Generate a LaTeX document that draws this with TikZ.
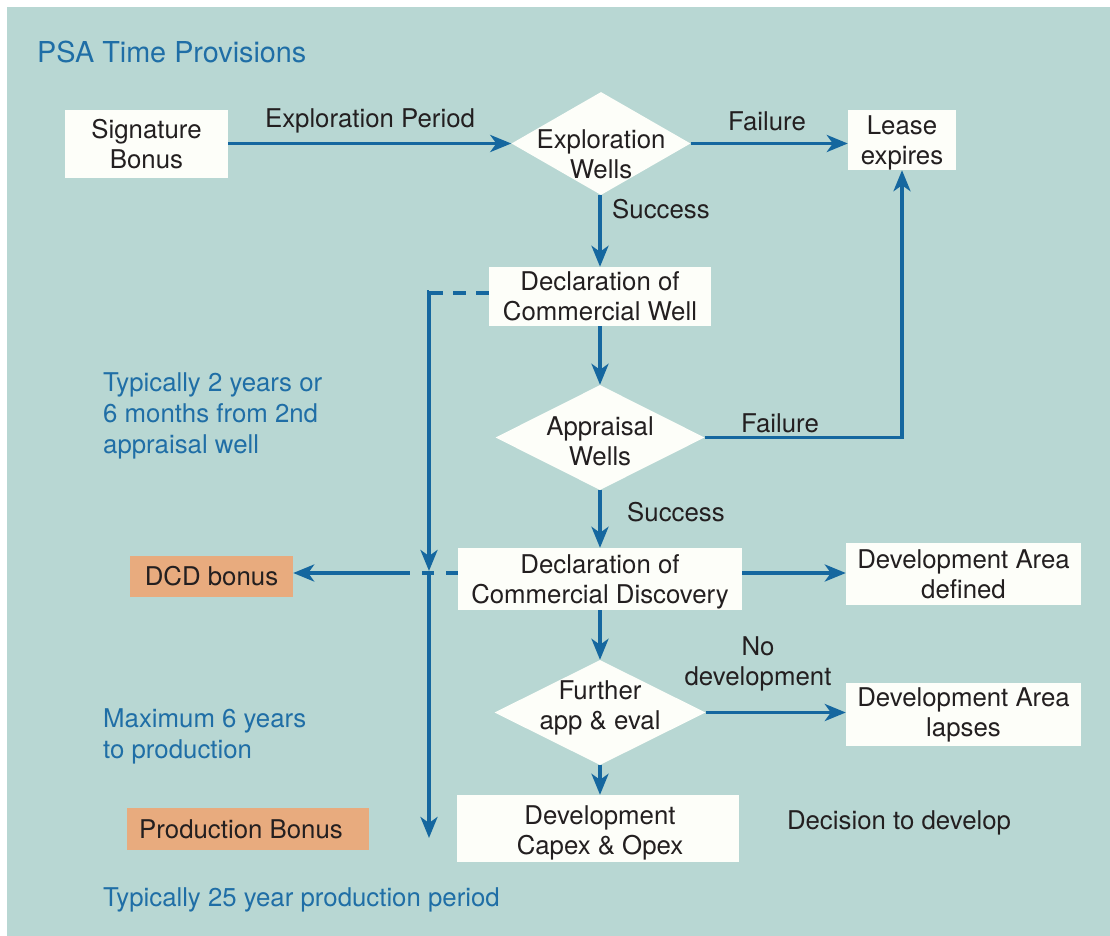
\documentclass[tikz,border=0pt]{standalone}
\usepackage{fontspec}
\setmainfont{TeX Gyre Heros}
\usetikzlibrary{shapes.geometric,arrows.meta,calc}
\definecolor{bgteal}{HTML}{B8D7D3}
\definecolor{boxwhite}{HTML}{FDFEF9}
\definecolor{flowblue}{HTML}{15679F}
\definecolor{noteblue}{HTML}{1F6EA6}
\definecolor{bonusorange}{HTML}{E8AB7E}
\definecolor{inkdark}{HTML}{231F20}
\tikzset{
  txt/.style={text=inkdark, font=\fontsize{25.8}{30}\selectfont, align=center, inner sep=0pt},
  note/.style={text=noteblue, font=\fontsize{25.8}{31}\selectfont, align=left, inner sep=0pt, anchor=west},
  stepbox/.style={fill=boxwhite, draw=none, inner sep=0pt, txt},
  bonusbox/.style={fill=bonusorange, draw=none, inner sep=0pt, txt},
  decision/.style={shape=diamond, fill=boxwhite, draw=none, inner sep=0pt},
  flow/.style={draw=flowblue, line width=3.5pt},
  flowarrow/.style={flow, -{Stealth[length=21pt,width=17pt,inset=6pt]}},
  flowdash/.style={flow, dash pattern=on 13pt off 10pt},
}
\begin{document}
\begin{tikzpicture}[x=1pt,y=-1pt]
\useasboundingbox (0,0) rectangle (1110,936);
\fill[bgteal] (7,7) rectangle (1110,936);

% title
\node[note, font=\fontsize{28.8}{34}\selectfont] (title) at (37,52) {PSA Time Provisions};

% process boxes
\node[stepbox, minimum width=163pt, minimum height=68pt] (sig) at (146.5,144) {Signature\\Bonus};
\node[stepbox, minimum width=108pt, minimum height=60pt,
  label={[txt, yshift=-3pt]center:Lease\\expires}] (lease) at (902,140) {};
\node[stepbox, minimum width=222pt, minimum height=59pt] (dcw) at (600,296.5) {Declaration of\\Commercial Well};
\node[stepbox, minimum width=284pt, minimum height=62pt,
  label={[txt, yshift=-3pt]center:Declaration of\\Commercial Discovery}] (dcd) at (600,579) {};
\node[stepbox, minimum width=235pt, minimum height=62pt] (dad) at (963.5,574) {Development Area\\defined};
\node[stepbox, minimum width=235pt, minimum height=63pt] (dal) at (963.5,714.5) {Development Area\\lapses};
\node[stepbox, minimum width=282pt, minimum height=67pt,
  label={[txt, yshift=-4pt, xshift=2pt]center:Development\\Capex \& Opex}] (dev) at (598,828.5) {};

% bonuses
\node[bonusbox, minimum width=163pt, minimum height=41pt] (dcdb) at (211.5,576.5) {DCD bonus};
\node[bonusbox, minimum width=242pt, minimum height=42pt,
  label={[txt, xshift=-7pt]center:Production Bonus}] (pb) at (248,829) {};

% decisions
\node[decision, minimum width=179pt, minimum height=103pt,
  label={[txt, yshift=-11pt]center:Exploration\\Wells}] (ew) at (601,143.5) {};
\node[decision, minimum width=209pt, minimum height=105pt,
  label={[txt, yshift=-4pt]center:Appraisal\\Wells}] (aw) at (600,437.5) {};
\node[decision, minimum width=211pt, minimum height=105pt,
  label={[txt, yshift=5pt]center:Further\\app \& eval}] (fae) at (600,712.5) {};

% main flow
\draw[flowarrow] (sig.east |- ew.west) -- (ew.west);
\draw[flowarrow] (ew.east) -- (ew.east -| lease.west);
\draw[flowarrow] (ew.south -| dcw.north) -- (dcw.north);
\draw[flowarrow] (dcw.south) -- (dcw.south |- aw.north);
\draw[flowarrow] (aw.east) -| (lease.south);
\draw[flowarrow] (aw.south) -- (aw.south |- dcd.north);
\draw[flowarrow] ($(dcd.east |- dad.west)+(0,-1)$) -- ($(dad.west)+(0,-1)$);
\draw[flowarrow] (dcd.south) -- (dcd.south |- fae.north);
\draw[flowarrow] (fae.east) -- (fae.east -| dal.west);
\draw[flowarrow] (fae.south) -- (fae.south |- dev.north);

% time-line on the left
\coordinate (corner) at (429,293);
\coordinate (cross) at (429,571);
\coordinate (lineend) at (429,838);
\coordinate (dashend) at (404,573);
\draw[flowdash] (dcw.west |- corner) -- (corner);
\draw[flow] ($(corner)+(0,-1.75)$) -- ($(corner)+(-1.75,-1.75)$);
\draw[flowarrow] ($(corner)+(0,-1.75)$) -- (cross);
\draw[flowarrow] (cross) -- (lineend);
\draw[flow, dash pattern=on 12pt off 12pt, dash phase=0pt] (dcd.west |- dashend) -- (dashend);
\draw[flowarrow] (dashend) -- (dcdb.east |- dashend);

% edge labels
\node[txt] (lexp) at (370,121) {Exploration Period};
\node[txt] (lfail1) at (767,121) {Failure};
\node[txt, anchor=west] (lsucc1) at (612,209) {Success};
\node[txt] (lfail2) at (780,423) {Failure};
\node[txt, anchor=west] (lsucc2) at (627,512) {Success};
\node[txt] (lnodev) at (758,664) {No\\development};
\node[txt] (ldecide) at (899,823) {Decision to develop};

% time provisions
\node[note] (n1) at (103,416) {Typically 2 years or\\6 months from 2nd\\appraisal well};
\node[note] (n2) at (103,736) {Maximum 6 years\\to production};
\node[note] (n3) at (103,900) {Typically 25 year production period};
\end{tikzpicture}
\end{document}
